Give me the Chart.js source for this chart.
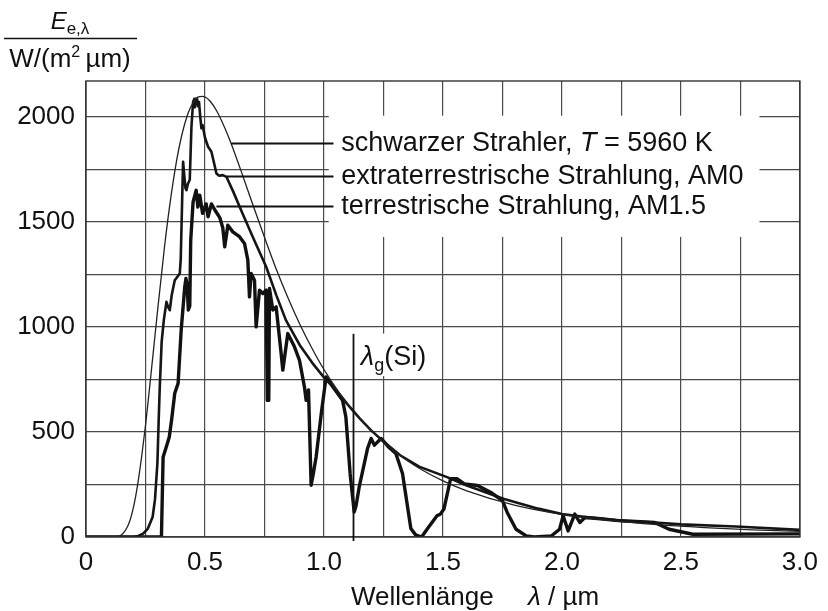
<!DOCTYPE html>
<html><head><meta charset="utf-8">
<script src="https://cdn.jsdelivr.net/npm/chart.js@4"></script>
<style>html,body{margin:0;padding:0;background:#fff}#wrap{width:828px;height:611px;position:relative}</style>
</head><body><div id="wrap"><canvas id="c" width="828" height="611"></canvas></div>
<script>
// ---- data ----
const bbWavelength = [0,0.10,0.12,0.15,0.18,0.20,0.22,0.25,0.28,0.30,0.33,0.35,0.38,0.40,0.43,0.45,0.47,0.49,0.50,0.52,0.55,0.60,0.65,0.70,0.75,0.80,0.85,0.90,0.95,1.00,1.10,1.20,1.30,1.40,1.50,1.60,1.80,2.00,2.20,2.40,2.60,2.80,3.00];
const bbIrradiance = [0,0,1,11,64,145,271,532,850,1069,1381,1563,1786,1900,2020,2066,2093,2097,2094,2076,2026,1901,1747,1585,1426,1273,1135,1009,897,797,632,504,404,327,267,220,152,108,79,59,45,34,27];

const am0Wavelength = [0,0.20,0.22,0.24,0.26,0.28,0.29,0.30,0.305,0.31,0.318,0.327,0.338,0.345,0.352,0.36,0.373,0.385,0.394,0.398,0.401,0.405,0.408,0.413,0.418,0.422,0.428,0.436,0.443,0.45,0.455,0.458,0.462,0.467,0.471,0.475,0.48,0.485,0.49,0.50,0.513,0.527,0.54,0.548,0.56,0.575,0.59,0.62,0.65,0.70,0.757,0.80,0.84,0.90,0.95,1.00,1.05,1.10,1.15,1.20,1.25,1.32,1.40,1.517,1.60,1.757,1.90,2.00,2.10,2.25,2.39,2.50,2.73,3.00];
const am0Irradiance = [0,0,5,16,40,95,180,350,540,714,930,1032,1119,1095,1079,1150,1222,1240,1254,1320,1460,1650,1786,1720,1660,1650,1680,1700,1950,2070,2085,2045,2085,2083,2050,2070,2000,1945,1960,1900,1857,1833,1770,1730,1719,1722,1714,1640,1560,1430,1286,1150,1032,910,830,759,700,630,565,505,455,389,335,285,245,181,135,109,95,77,69,60,50,34];

const am15Wavelength = [0,0.31,0.317,0.324,0.335,0.35,0.36,0.373,0.387,0.40,0.415,0.42,0.425,0.43,0.436,0.44,0.45,0.463,0.47,0.478,0.49,0.505,0.513,0.527,0.545,0.562,0.575,0.583,0.596,0.617,0.645,0.666,0.68,0.687,0.694,0.708,0.715,0.729,0.743,0.757,0.762,0.768,0.771,0.785,0.799,0.82,0.827,0.848,0.876,0.897,0.918,0.925,0.935,0.946,0.955,0.967,0.99,1.009,1.04,1.078,1.092,1.11,1.127,1.135,1.148,1.183,1.198,1.212,1.24,1.27,1.302,1.33,1.365,1.385,1.41,1.44,1.475,1.49,1.504,1.532,1.56,1.59,1.645,1.70,1.75,1.77,1.807,1.85,1.885,1.955,1.99,2.005,2.026,2.054,2.075,2.096,2.15,2.25,2.39,2.45,2.55,3.00];
const am15Irradiance = [0,0,0,381,420,476,560,684,731,985,1190,1230,1200,1080,1100,1410,1595,1650,1570,1627,1540,1585,1524,1585,1550,1520,1470,1381,1484,1452,1429,1397,1318,1143,1254,1222,1000,1175,1159,1175,650,651,1183,1080,1095,873,794,968,905,841,714,651,700,246,300,381,600,762,710,651,571,300,119,150,238,421,469,437,469,430,397,302,40,10,0,48,101,110,133,277,277,253,245,213,173,117,37,5,0,5,37,101,29,109,69,93,88,77,69,37,13,15];

const seriesNames = ['schwarzer Strahler, T = 5960 K','extraterrestrische Strahlung, AM0','terrestrische Strahlung, AM1.5'];
const xTickLabels = ['0','0.5','1.0','1.5','2.0','2.5','3.0'];
const yTickLabels = ['0','500','1000','1500','2000'];

const toPts = (xs, ys) => xs.map((v, i) => ({x: v, y: ys[i]}));
const FONT = "'Liberation Sans', Arial, Helvetica, sans-serif";

function drawParts(ctx, x, y, parts){
  let cx = x;
  for (const p of parts){
    ctx.font = p.font;
    ctx.fillText(p.t, cx, y + (p.dy || 0));
    cx += ctx.measureText(p.t).width;
  }
  return cx;
}
function partsWidth(ctx, parts){
  let w = 0;
  for (const p of parts){ ctx.font = p.font; w += ctx.measureText(p.t).width; }
  return w;
}

const annot = {
  id: 'annot',
  beforeDatasetsDraw(chart){
    const {ctx, scales:{x, y}} = chart;
    ctx.save();
    ctx.fillStyle = '#fff';
    // white panel behind the key texts
    const bx0 = x.getPixelForValue(1.02), bx1 = x.getPixelForValue(2.83);
    const by0 = y.getPixelForValue(2005), by1 = y.getPixelForValue(1428);
    ctx.fillRect(bx0, by0, bx1 - bx0, by1 - by0);
    // white panel behind lambda_g label
    const lx0 = x.getPixelForValue(1.14), lx1 = x.getPixelForValue(1.465);
    const ly0 = y.getPixelForValue(968), ly1 = y.getPixelForValue(766);
    ctx.fillRect(lx0, ly0, lx1 - lx0, ly1 - ly0);
    ctx.restore();
  },
  afterDraw(chart){
    const {ctx, chartArea:a, scales:{x, y}} = chart;
    ctx.save();
    // frame
    ctx.strokeStyle = '#333'; ctx.lineWidth = 1.4;
    ctx.strokeRect(a.left, a.top, a.right - a.left, a.bottom - a.top);

    // leader lines + key texts
    const rows = [
      {v: 1875, from: 0.61},
      {v: 1720, from: 0.59},
      {v: 1573, from: 0.548}
    ];
    ctx.strokeStyle = '#111'; ctx.lineWidth = 2;
    const endX = x.getPixelForValue(1.04);
    const textX = x.getPixelForValue(1.073);
    ctx.fillStyle = '#111';
    ctx.textBaseline = 'middle';
    rows.forEach((r, i) => {
      const py = Math.round(y.getPixelForValue(r.v)) + 0.5;
      ctx.beginPath();
      ctx.moveTo(x.getPixelForValue(r.from), py);
      ctx.lineTo(endX, py);
      ctx.stroke();
      if (i === 0){
        const name = seriesNames[0];
        const k = name.indexOf('T = ');
        drawParts(ctx, textX, py, [
          {t: name.slice(0, k), font: `27px ${FONT}`},
          {t: 'T', font: `italic 27px ${FONT}`},
          {t: name.slice(k + 1), font: `27px ${FONT}`}
        ]);
      } else {
        ctx.font = `27px ${FONT}`;
        ctx.fillText(seriesNames[i], textX, py);
      }
    });

    // lambda_g(Si) marker
    const gx = Math.round(x.getPixelForValue(1.12)) + 0.5;
    ctx.lineWidth = 1.8;
    ctx.beginPath();
    ctx.moveTo(gx, y.getPixelForValue(967));
    ctx.lineTo(gx, y.getPixelForValue(-19));
    ctx.stroke();
    ctx.textBaseline = 'alphabetic';
    const gy = y.getPixelForValue(862) + 9;
    drawParts(ctx, x.getPixelForValue(1.155), gy, [
      {t: 'λ', font: `italic 27px ${FONT}`},
      {t: 'g', font: `18px ${FONT}`, dy: 6},
      {t: '(Si)', font: `27px ${FONT}`}
    ]);

    // y-axis quantity (fraction) top-left
    const top = [
      {t: 'E', font: `italic 24px ${FONT}`},
      {t: 'e,λ', font: `17px ${FONT}`, dy: 5}
    ];
    const cxT = 70;
    drawParts(ctx, cxT - partsWidth(ctx, top) / 2, 29, top);
    ctx.lineWidth = 1.6;
    ctx.beginPath(); ctx.moveTo(4, 38.5); ctx.lineTo(137, 38.5); ctx.stroke();
    const unit = [
      {t: 'W/(m', font: `26px ${FONT}`},
      {t: '2', font: `16px ${FONT}`, dy: -10},
      {t: '\u2009µm)', font: `26px ${FONT}`}
    ];
    drawParts(ctx, cxT - partsWidth(ctx, unit) / 2, 67, unit);

    // x-axis quantity
    drawParts(ctx, 351, 605, [
      {t: 'Wellenlänge', font: `26px ${FONT}`}
    ]);
    drawParts(ctx, 528, 605, [
      {t: 'λ', font: `italic 26px ${FONT}`},
      {t: ' / µm', font: `26px ${FONT}`}
    ]);
    ctx.restore();
  }
};

new Chart(document.getElementById('c'), {
  type: 'line',
  data: {
    datasets: [
      {label: seriesNames[0], data: toPts(bbWavelength, bbIrradiance), borderColor: '#222', borderWidth: 1.3, pointRadius: 0, cubicInterpolationMode: 'monotone', fill: false},
      {label: seriesNames[1], data: toPts(am0Wavelength, am0Irradiance), borderColor: '#151515', borderWidth: 2.6, pointRadius: 0, tension: 0, fill: false, borderJoinStyle: 'round'},
      {label: seriesNames[2], data: toPts(am15Wavelength, am15Irradiance), borderColor: '#111', borderWidth: 3.4, pointRadius: 0, tension: 0, fill: false, borderJoinStyle: 'round'}
    ]
  },
  options: {
    responsive: false,
    devicePixelRatio: 1,
    animation: false,
    layout: {padding: {top: 81, right: 26, left: 0, bottom: 0}},
    plugins: {legend: {display: false}, tooltip: {enabled: false}},
    scales: {
      x: {
        type: 'linear', min: 0, max: 3,
        afterFit(s){ s.height = 74; },
        border: {display: false},
        grid: {color: '#4a4a4a', lineWidth: 1.2, drawTicks: false},
        ticks: {
          stepSize: 0.25, autoSkip: false, maxRotation: 0, padding: 10,
          color: '#111', font: {family: FONT, size: 26},
          callback(v){
            const k = Math.round(v * 2);
            return Math.abs(v * 2 - k) < 1e-6 ? xTickLabels[k] : '';
          }
        }
      },
      y: {
        type: 'linear', min: 0, max: 2170,
        afterFit(s){ s.width = 86; },
        border: {display: false},
        grid: {color: '#4a4a4a', lineWidth: 1.2, drawTicks: false},
        ticks: {
          stepSize: 250, includeBounds: false, padding: 11,
          color: '#111', font: {family: FONT, size: 26},
          callback(v){
            return v % 500 === 0 ? yTickLabels[v / 500] : '';
          }
        }
      }
    }
  },
  plugins: [annot]
});
</script>
</body></html>
